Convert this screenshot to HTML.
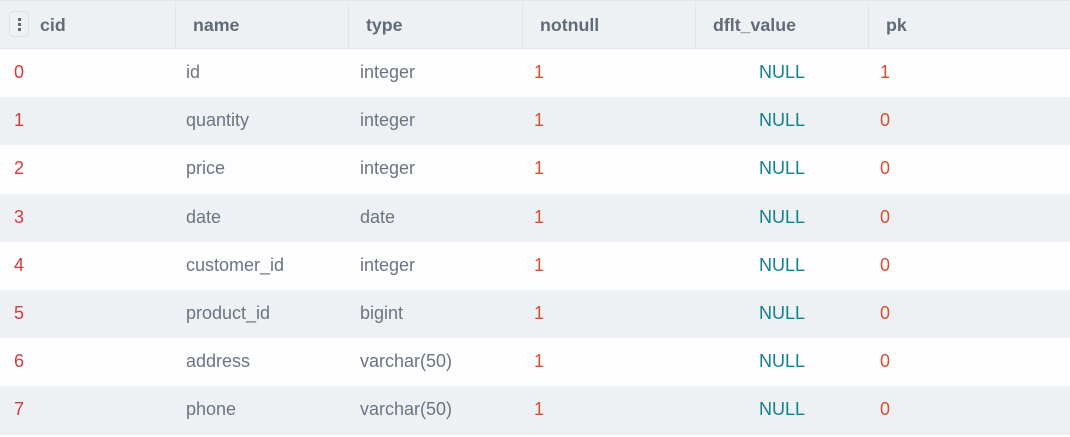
<!DOCTYPE html>
<html><head><style>
body{margin:0;width:1070px;height:437px;background:#fff;font-family:"Liberation Sans",sans-serif;overflow:hidden;position:relative}
.hdr{position:absolute;left:0;top:0;width:1070px;height:49px;background:#eef1f4;border-top:1px solid #e3e6ea;border-bottom:1px solid #e3e6ea;box-sizing:border-box}
.vl{position:absolute;top:1px;width:1px;height:46px;background:#e2e5e9}
.h{position:absolute;top:14px;font-weight:bold;font-size:17.8px;color:#5f6b77}
.row{position:absolute;left:0;width:1070px;height:48.2px}
.row span{position:absolute;top:13px;font-size:18px}
.c0{left:14px;color:#d63b3b}.c1{left:186px;color:#6b7480}.c2{left:360px;color:#6b7480}.c3{left:534px;color:#d8502c}.c4{left:759px;color:#12808e}.c5{left:880px;color:#d8502c}
.btn{position:absolute;left:9px;top:10px;width:20px;height:26px;border:1px solid #dde1e5;border-radius:4px;box-sizing:border-box;background:#eef1f4}
</style></head><body>
<div class="hdr">
<div class="btn"><div style="position:absolute;left:8px;top:6px;width:3px;height:3px;background:#5f6b77"></div><div style="position:absolute;left:8px;top:11px;width:3px;height:3px;background:#5f6b77"></div><div style="position:absolute;left:8px;top:16px;width:3px;height:3px;background:#5f6b77"></div></div>
<div class="vl" style="left:175px"></div><div class="vl" style="left:348px"></div><div class="vl" style="left:522px"></div><div class="vl" style="left:695px"></div><div class="vl" style="left:868px"></div>
<div class="h" style="left:40px">cid</div><div class="h" style="left:193px">name</div><div class="h" style="left:366px">type</div><div class="h" style="left:540px">notnull</div><div class="h" style="left:713px">dflt_value</div><div class="h" style="left:886px">pk</div>
</div>
<div class="row" style="top:49px;background:#fdfcff"><span class="c0">0</span><span class="c1">id</span><span class="c2">integer</span><span class="c3">1</span><span class="c4">NULL</span><span class="c5">1</span></div>
<div class="row" style="top:97.2px;background:#eef1f4"><span class="c0">1</span><span class="c1">quantity</span><span class="c2">integer</span><span class="c3">1</span><span class="c4">NULL</span><span class="c5">0</span></div>
<div class="row" style="top:145.4px;background:#fdfcff"><span class="c0">2</span><span class="c1">price</span><span class="c2">integer</span><span class="c3">1</span><span class="c4">NULL</span><span class="c5">0</span></div>
<div class="row" style="top:193.6px;background:#eef1f4"><span class="c0">3</span><span class="c1">date</span><span class="c2">date</span><span class="c3">1</span><span class="c4">NULL</span><span class="c5">0</span></div>
<div class="row" style="top:241.8px;background:#fdfcff"><span class="c0">4</span><span class="c1">customer_id</span><span class="c2">integer</span><span class="c3">1</span><span class="c4">NULL</span><span class="c5">0</span></div>
<div class="row" style="top:290px;background:#eef1f4"><span class="c0">5</span><span class="c1">product_id</span><span class="c2">bigint</span><span class="c3">1</span><span class="c4">NULL</span><span class="c5">0</span></div>
<div class="row" style="top:338.2px;background:#fdfcff"><span class="c0">6</span><span class="c1">address</span><span class="c2">varchar(50)</span><span class="c3">1</span><span class="c4">NULL</span><span class="c5">0</span></div>
<div class="row" style="top:386.4px;background:#eef1f4"><span class="c0">7</span><span class="c1">phone</span><span class="c2">varchar(50)</span><span class="c3">1</span><span class="c4">NULL</span><span class="c5">0</span></div>
</body></html>
